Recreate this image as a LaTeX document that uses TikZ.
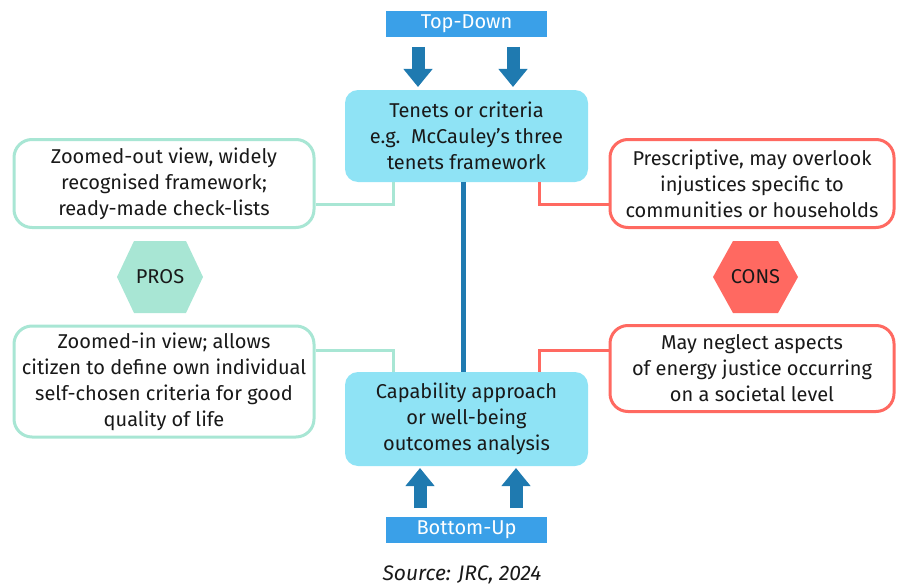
\documentclass[tikz,border=0pt]{standalone}
\usepackage{fontspec}
\setmainfont{Fira Sans}
\usetikzlibrary{arrows.meta,positioning,calc}
\definecolor{labelblue}{RGB}{58,160,232}
\definecolor{arrowblue}{RGB}{31,122,176}
\definecolor{boxcyan}{RGB}{143,227,245}
\definecolor{prosgreen}{RGB}{168,230,212}
\definecolor{consred}{RGB}{255,105,97}
\definecolor{textgray}{RGB}{25,25,25}

\begin{document}
\begin{tikzpicture}[x=1pt, y=-1pt,
    every node/.style={font=\fontsize{20}{26}\selectfont, text=textgray, align=center},
    dirlabel/.style={fill=labelblue, text=white, minimum width=161pt, minimum height=26pt, inner sep=0pt},
    mainbox/.style={fill=boxcyan, rounded corners=13pt, minimum width=243pt, inner sep=0pt},
    prosbox/.style={draw=prosgreen, line width=3pt, fill=white, rounded corners=18pt, minimum width=300pt, inner sep=0pt},
    consbox/.style={draw=consred, line width=3pt, fill=white, rounded corners=18pt, minimum width=284pt, inner sep=0pt},
    bigarrow/.style={arrowblue, line width=13pt, -{Triangle[width=28pt, length=18pt]}},
    prosline/.style={prosgreen, line width=3pt},
    consline/.style={consred, line width=3pt}]

\useasboundingbox (0,0) rectangle (897,586);

% Direction labels
\node[dirlabel] (topdown) at (466.5,24) {Top-Down};
\node[dirlabel] (bottomup) at (466.5,530) {Bottom-Up};

% Central boxes
\node[mainbox, minimum height=92pt] (tenets) at (466.5,136) {Tenets or criteria\\e.g.\ \ McCauley’s three\\tenets framework};
\node[mainbox, minimum height=94pt] (capab) at (466.5,419) {Capability approach\\or well-being\\outcomes analysis};

% Pros and cons boxes
\node[prosbox, minimum height=88pt] (prosup) at (164,183.5) {Zoomed-out view, widely\\recognised framework;\\ready-made check-lists};
\node[prosbox, minimum height=111pt] (prosdown) at (164,381.5) {Zoomed-in view; allows\\citizen to define own individual\\self-chosen criteria for good\\quality of life};
\node[consbox, minimum height=88pt] (consup) at (752,183.5) {Prescriptive, may overlook\\injustices specific to\\communities or households};
\node[consbox, minimum height=86pt] (consdown) at (752,368.5) {May neglect aspects\\of energy justice occurring\\on a societal level};

% Hexagons
\fill[prosgreen] (117,277) -- (134,241) -- (186,241) -- (203,277) -- (186,313) -- (134,313) -- cycle;
\node (pros) at (160,277) {PROS};
\fill[consred] (713,277) -- (733,241) -- (778,241) -- (798,277) -- (778,313) -- (733,313) -- cycle;
\node (cons) at (755.5,277) {CONS};

% Block arrows
\coordinate (td1) at (418,47);
\coordinate (td2) at (513,47);
\coordinate (bu1) at (420,508);
\coordinate (bu2) at (516,508);
\draw[bigarrow] (td1) -- (td1 |- 0,87);
\draw[bigarrow] (td2) -- (td2 |- 0,87);
\draw[bigarrow] (bu1) -- (bu1 |- 0,468);
\draw[bigarrow] (bu2) -- (bu2 |- 0,468);

% Connectors
\draw[arrowblue, line width=5pt] ([xshift=-3.5pt]tenets.south) -- ([xshift=-3.5pt]capab.north);
\draw[prosline] ([yshift=-20.5pt]prosup.east) -| ([xshift=-73.5pt]tenets.south);
\draw[consline] ([xshift=72.5pt]tenets.south) |- ([yshift=-20.5pt]consup.west);
\draw[prosline] ([yshift=31.5pt]prosdown.east) -| ([xshift=-73.5pt]capab.north);
\draw[consline] ([xshift=72.5pt]capab.north) |- ([yshift=18.5pt]consdown.west);

% Source
\node[font=\itshape\fontsize{21}{24}\selectfont] (source) at (462,575) {Source: JRC, 2024};

\end{tikzpicture}
\end{document}
